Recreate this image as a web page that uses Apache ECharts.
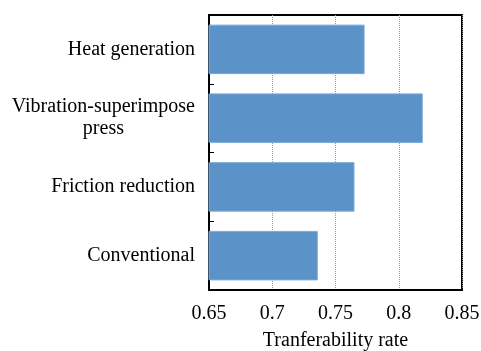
<!DOCTYPE html>
<html>
<head>
<meta charset="utf-8">
<script src="https://cdn.jsdelivr.net/npm/echarts@6/dist/echarts.min.js"></script>
<style>html,body{margin:0;padding:0;background:#fff}#c{width:481px;height:351px}</style>
</head>
<body>
<div id="c"></div>
<script>
// Categories listed bottom-to-top (ECharts category y-axis order)
var categories = ['Conventional', 'Friction reduction', 'Vibration-superimpose\npress', 'Heat generation'];
var values = [0.736, 0.765, 0.819, 0.773];
var xTicks = [0.65, 0.7, 0.75, 0.8, 0.85];
var xAxisTitle = 'Tranferability rate';

var font = '"Liberation Serif", "Times New Roman", serif';
var fontSize = 20;

// measure multi-line labels so each line can be centred within the block
var ctx = document.createElement('canvas').getContext('2d');
ctx.font = fontSize + 'px ' + font;
var catData = categories.map(function (c) {
  if (c.indexOf('\n') < 0) return c;
  var w = Math.max.apply(null, c.split('\n').map(function (s) { return ctx.measureText(s).width; }));
  return {value: c, textStyle: {align: 'center', padding: [0, w, 0, 0]}};
});

var chart = echarts.init(document.getElementById('c'), null, {renderer: 'canvas'});
chart.setOption({
  animation: false,
  backgroundColor: '#fff',
  grid: {left: 209, right: 19, top: 15, bottom: 61, outerBoundsMode: 'none', containLabel: false,
    show: true, borderColor: '#000', borderWidth: 2, backgroundColor: 'transparent'},
  xAxis: {
    type: 'value',
    min: xTicks[0], max: xTicks[xTicks.length - 1], interval: 0.05,
    name: xAxisTitle, nameLocation: 'middle', nameGap: 41,
    nameTextStyle: {fontFamily: font, fontSize: fontSize, color: '#000'},
    axisLine: {show: true, lineStyle: {color: '#000', width: 2}},
    axisTick: {show: false},
    axisLabel: {fontFamily: font, fontSize: fontSize, color: '#000', margin: 14,
      formatter: function (v) { return String(Math.round(v * 100) / 100); }},
    splitLine: {show: true, lineStyle: {color: '#999', type: 'dotted', width: 1}}
  },
  yAxis: {
    type: 'category',
    data: catData,
    axisLine: {show: true, lineStyle: {color: '#000', width: 2}},
    axisTick: {show: true, inside: true, length: 5, lineStyle: {color: '#000', width: 1}},
    axisLabel: {fontFamily: font, fontSize: fontSize, color: '#000', margin: 14, lineHeight: 22, align: 'right'},
    splitLine: {show: false}
  },
  series: [{
    type: 'bar',
    data: values,
    barWidth: '72%',
    itemStyle: {color: '#5b93c9', borderColor: '#7aa8d6', borderWidth: 1}
  }]
});
</script>
</body>
</html>
